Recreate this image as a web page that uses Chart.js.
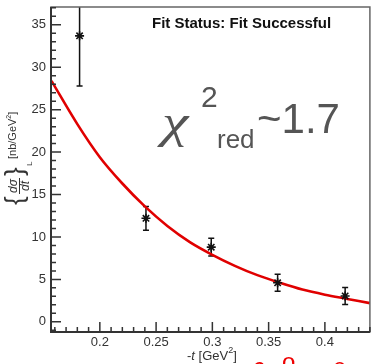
<!DOCTYPE html>
<html>
<head>
<meta charset="utf-8">
<script src="https://cdn.jsdelivr.net/npm/chart.js@4.4.0/dist/chart.umd.min.js"></script>
<style>
html, body { margin: 0; padding: 0; background: #fff; }
</style>
</head>
<body>
<canvas id="graphe" width="376" height="364"></canvas>
<script>
// Points mesures (-t, dsigma/dt) et erreurs
const tMesures = [0.182, 0.241, 0.299, 0.358, 0.418];
const sigmaMesures = [33.7, 12.2, 8.8, 4.6, 3.05];
const erreursMesures = [5.9, 1.4, 1.05, 1.0, 1.0];

// Courbe d'ajustement
const tFit = [0.157, 0.18, 0.20, 0.22, 0.24, 0.26, 0.28, 0.30, 0.32, 0.34, 0.36, 0.38, 0.40, 0.42, 0.44];
const sigmaFit = [28.4, 23.3, 19.4, 16.3, 13.6, 11.3, 9.4, 7.9, 6.6, 5.5, 4.6, 3.8, 3.2, 2.7, 2.2];

// Graduations
const ticksX = [0.2, 0.25, 0.3, 0.35, 0.4];
const labelsX = ['0.2', '0.25', '0.3', '0.35', '0.4'];
const ticksY = [0, 5, 10, 15, 20, 25, 30, 35];
const labelsY = ['0', '5', '10', '15', '20', '25', '30', '35'];

const police = '"Liberation Sans", Arial, Helvetica, sans-serif';

function petitesGraduations(debut, fin, pas) {
    const res = [];
    for (let v = debut; v <= fin + 1e-9; v += pas) res.push(+v.toFixed(4));
    return res;
}

const cadre = {
    id: 'cadre',
    beforeDatasetsDraw(chart) {
        const ctx = chart.ctx;
        const a = chart.chartArea;
        const sx = chart.scales.x, sy = chart.scales.y;
        ctx.save();
        ctx.beginPath();
        ctx.rect(a.left, a.top, a.right - a.left, a.bottom - a.top);
        ctx.clip();
        ctx.strokeStyle = '#111';
        ctx.lineWidth = 1.5;
        tMesures.forEach((t, i) => {
            const x = sx.getPixelForValue(t);
            const yh = sy.getPixelForValue(sigmaMesures[i] + erreursMesures[i]);
            const yb = sy.getPixelForValue(sigmaMesures[i] - erreursMesures[i]);
            ctx.beginPath();
            ctx.moveTo(x, yh); ctx.lineTo(x, yb);
            ctx.moveTo(x - 3, yh); ctx.lineTo(x + 3, yh);
            ctx.moveTo(x - 3, yb); ctx.lineTo(x + 3, yb);
            ctx.stroke();
        });
        ctx.restore();
    },
    afterDraw(chart) {
        const ctx = chart.ctx;
        const a = chart.chartArea;
        const sx = chart.scales.x, sy = chart.scales.y;
        ctx.save();

        // cadre
        ctx.strokeStyle = '#666';
        ctx.lineWidth = 1.5;
        ctx.strokeRect(a.left, a.top, a.right - a.left, a.bottom - a.top);
        ctx.strokeStyle = '#333';
        ctx.lineWidth = 2;
        ctx.beginPath();
        ctx.moveTo(a.left, a.top); ctx.lineTo(a.left, a.bottom); ctx.lineTo(a.right, a.bottom);
        ctx.stroke();

        // graduations
        ctx.lineWidth = 1.5;
        ctx.beginPath();
        petitesGraduations(0.16, 0.44, 0.01).forEach(v => {
            const x = sx.getPixelForValue(v);
            const grand = ticksX.some(t => Math.abs(t - v) < 1e-6);
            ctx.moveTo(x, a.bottom); ctx.lineTo(x, a.bottom - (grand ? 10 : 5));
        });
        petitesGraduations(-1, 37, 1).forEach(v => {
            const y = sy.getPixelForValue(v);
            const grand = ticksY.includes(v);
            ctx.moveTo(a.left, y); ctx.lineTo(a.left + (grand ? 10 : 5), y);
        });
        ctx.stroke();

        // etiquettes
        ctx.fillStyle = '#333';
        ctx.font = '13px ' + police;
        ctx.textAlign = 'right';
        ctx.textBaseline = 'middle';
        ticksY.forEach((v, i) => ctx.fillText(labelsY[i], a.left - 5, sy.getPixelForValue(v)));
        ctx.textAlign = 'center';
        ctx.textBaseline = 'top';
        ticksX.forEach((v, i) => ctx.fillText(labelsX[i], sx.getPixelForValue(v), a.bottom + 4));

        // titre axe x : -t [GeV^2]
        ctx.textAlign = 'left';
        ctx.textBaseline = 'alphabetic';
        let x = 187, yb = 360;
        ctx.font = '13px ' + police;
        ctx.fillText('-', x, yb); x += ctx.measureText('-').width;
        ctx.font = 'italic 13px ' + police;
        ctx.fillText('t', x, yb); x += ctx.measureText('t ').width;
        ctx.font = '13px ' + police;
        ctx.fillText('[GeV', x, yb); x += ctx.measureText('[GeV').width;
        ctx.font = '9px ' + police;
        ctx.fillText('2', x, yb - 7); x += ctx.measureText('2').width;
        ctx.font = '13px ' + police;
        ctx.fillText(']', x, yb);

        // titre axe y
        ctx.save();
        ctx.translate(0, 205);
        ctx.rotate(-Math.PI / 2);
        ctx.textBaseline = 'alphabetic';
        ctx.font = '26px ' + police;
        ctx.fillText('{', 0, 23);
        ctx.font = 'italic 12px ' + police;
        ctx.textAlign = 'center';
        ctx.fillText('d\u03c3', 19, 17);
        ctx.fillText('dt', 19, 29);
        ctx.lineWidth = 1;
        ctx.beginPath(); ctx.moveTo(11, 19.5); ctx.lineTo(27, 19.5); ctx.stroke();
        ctx.textAlign = 'left';
        ctx.font = '26px ' + police;
        ctx.fillText('}', 29, 23);
        ctx.font = '8px ' + police;
        ctx.fillText('L', 39, 32);
        let u = 46;
        ctx.font = '11px ' + police;
        ctx.fillText('[nb/GeV', u, 16);
        u += ctx.measureText('[nb/GeV').width;
        ctx.font = '7px ' + police;
        ctx.fillText('2', u, 11);
        u += ctx.measureText('2').width;
        ctx.font = '11px ' + police;
        ctx.fillText(']', u, 16);
        ctx.restore();

        // statut de l'ajustement
        ctx.fillStyle = '#111';
        ctx.font = 'bold 15px ' + police;
        ctx.textAlign = 'left';
        ctx.fillText('Fit Status: Fit Successful', 152, 28);

        // chi2 reduit
        ctx.fillStyle = '#555';
        ctx.save();
        ctx.translate(162, 137);
        ctx.scale(1.3, 1);
        ctx.font = 'italic 46px "Liberation Serif", serif';
        ctx.fillText('\u03c7', 0, 0);
        ctx.restore();
        ctx.font = '30px ' + police;
        ctx.fillText('2', 201, 107);
        ctx.font = '26px ' + police;
        ctx.fillText('red', 217, 148);
        ctx.font = '42px ' + police;
        ctx.fillText('~1.7', 257, 133);

        // texte rouge coupe en bas
        ctx.fillStyle = '#e00';
        ctx.font = '24px ' + police;
        ctx.fillText('c', 253, 375);
        ctx.fillText('o', 282, 370);
        ctx.fillText('e', 333, 375);

        ctx.restore();
    }
};

new Chart(document.getElementById('graphe'), {
    type: 'scatter',
    data: {
        datasets: [{
            label: 'Ajustement',
            data: tFit.map((t, i) => ({ x: t, y: sigmaFit[i] })),
            showLine: true,
            borderColor: '#e00000',
            borderWidth: 2.6,
            pointRadius: 0,
            cubicInterpolationMode: 'monotone',
            order: 2
        }, {
            label: 'Mesures',
            data: tMesures.map((t, i) => ({ x: t, y: sigmaMesures[i] })),
            pointStyle: 'star',
            pointRadius: 4.5,
            borderColor: '#111',
            backgroundColor: '#111',
            borderWidth: 1.6,
            order: 1
        }]
    },
    options: {
        responsive: false,
        animation: false,
        layout: { padding: { left: 51, right: 4, top: 7, bottom: 32 } },
        plugins: { legend: { display: false }, tooltip: { enabled: false } },
        scales: {
            x: { type: 'linear', min: 0.1566, max: 0.44, display: false },
            y: { type: 'linear', min: -1.2, max: 37.1, display: false }
        }
    },
    plugins: [cadre]
});
</script>
</body>
</html>
